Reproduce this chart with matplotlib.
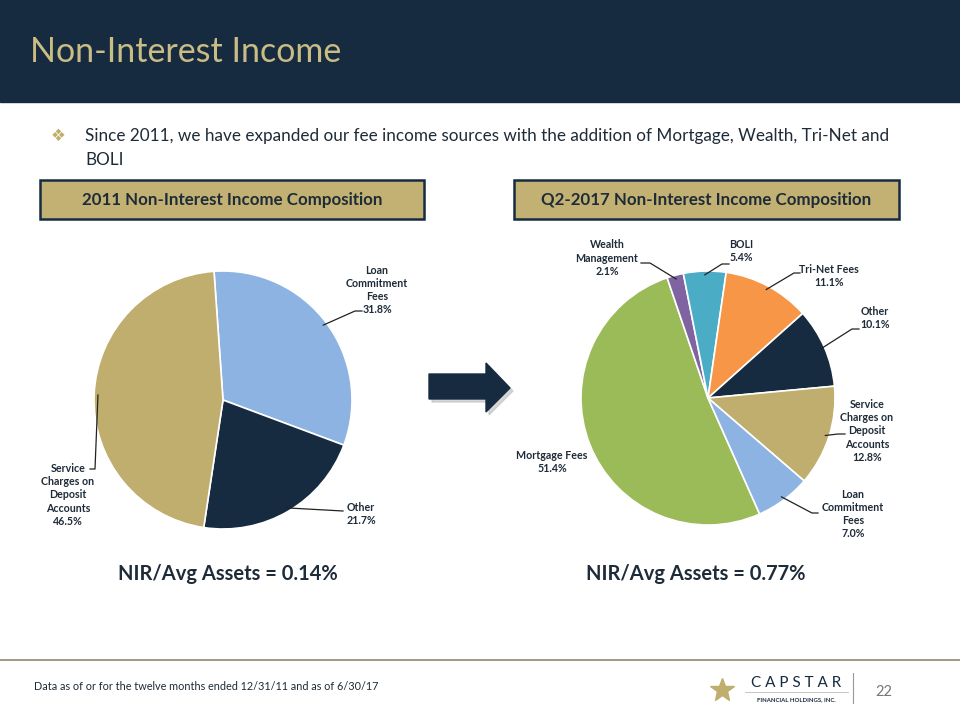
import numpy as np
import matplotlib.pyplot as plt
from matplotlib.patches import Rectangle, Polygon

plt.rcParams['font.family'] = ['Lato', 'DejaVu Sans']

W, H = 960, 720
NAVY = "#172B40"
TAN = "#C0AE6E"
TEXT = "#1E2B38"

# 2011 composition (clockwise from top)
labels_2011 = ["Loan\nCommitment\nFees", "Other", "Service\nCharges on\nDeposit\nAccounts"]
share_2011 = [31.8, 21.7, 46.5]
colors_2011 = ["#8DB3E2", NAVY, TAN]

# Q2-2017 composition (clockwise)
labels_2017 = ["Mortgage Fees", "Wealth\nManagement", "BOLI", "Tri-Net Fees", "Other",
               "Service\nCharges on\nDeposit\nAccounts", "Loan\nCommitment\nFees"]
share_2017 = [51.4, 2.1, 5.4, 11.1, 10.1, 12.8, 7.0]
colors_2017 = ["#9BBB59", "#8064A2", "#4BACC6", "#F79646", NAVY, TAN, "#8DB3E2"]

nir_2011 = 0.14
nir_2017 = 0.77


def Y(y):
    # slide pixel rows (top-down) to axes coords (bottom-up)
    return H - y


fig = plt.figure(figsize=(9.6, 7.2), dpi=100)
ax = fig.add_axes([0, 0, 1, 1])


def draw_pie(share, labels, colors, cx, cy, r, start, layout):
    wedges, _ = ax.pie(share, colors=colors, startangle=start, counterclock=False,
                       center=(cx, Y(cy)), radius=r,
                       wedgeprops=dict(edgecolor='white', linewidth=1.2))
    for w, lab, val, lay in zip(wedges, labels, share, layout):
        tx, ty, path = lay
        ax.text(tx, Y(ty), f"{lab}\n{val:.1f}%", ha='center', va='center',
                fontsize=7.7, fontweight='bold', color=TEXT, linespacing=1.25)
        if path:
            mid = np.deg2rad((w.theta1 + w.theta2) / 2)
            xs = [cx + r * 0.97 * np.cos(mid)] + [p[0] for p in path]
            ys = [Y(cy) + r * 0.97 * np.sin(mid)] + [Y(p[1]) for p in path]
            ax.plot(xs, ys, color='#222222', lw=0.9)


# label layout: text centre and leader path, in slide pixels
layout_2011 = [
    (377, 290, [(355, 311), (362, 311)]),
    (361, 514, [(343, 511)]),
    (68, 495, [(95, 469), (90, 469)]),
]
layout_2017 = [
    (607, 258, None) if False else (552, 462, None),
    (607, 258, [(650, 263), (641, 263)]),
    (741, 251, [(722, 264), (729, 264)]),
    (829, 276, [(794, 273), (800, 273)]),
    (875, 318, [(852, 329), (859, 329)]),
    (867, 431, [(838, 434), (845, 434)]),
    (853, 514, [(812, 513), (818, 513)]),
]

draw_pie(share_2011, labels_2011, colors_2011, 223, 400, 129, 94, layout_2011)
draw_pie(share_2017, labels_2017, colors_2017, 708, 398, 127, -66, layout_2017)

ax.set_xlim(0, W)
ax.set_ylim(0, H)
ax.set_aspect('auto')
ax.axis('off')

# header band
ax.add_patch(Rectangle((0, Y(102)), W, 102, color=NAVY, zorder=0))
ax.text(30, Y(52), "Non-Interest Income", fontsize=24.5, color="#C9BC84", va='center', ha='left')

# bullet
ax.text(58, Y(136), "\u2756", fontsize=12, color=TAN, ha='center', va='center',
        family=['DejaVu Sans'])
ax.text(85, Y(136), "Since 2011, we have expanded our fee income sources with the addition of Mortgage, Wealth, Tri-Net and",
        fontsize=12.3, color=TEXT, va='center', ha='left')
ax.text(85, Y(160), "BOLI", fontsize=12.3, color=TEXT, va='center', ha='left')

# section boxes
for x0, x1, title in [(40, 424, "2011 Non-Interest Income Composition"),
                      (514, 899, "Q2-2017 Non-Interest Income Composition")]:
    ax.add_patch(Rectangle((x0, Y(219)), x1 - x0, 39, facecolor="#C2B173",
                           edgecolor=NAVY, linewidth=1.8, zorder=1))
    ax.text((x0 + x1) / 2, Y(200), title, fontsize=12.2, fontweight='bold',
            color=TEXT, ha='center', va='center', zorder=2)

ax.text(228, Y(574), f"NIR/Avg Assets = {nir_2011:.2f}%", fontsize=14.5, fontweight='bold',
        color=TEXT, ha='center', va='center')
ax.text(696, Y(574), f"NIR/Avg Assets = {nir_2017:.2f}%", fontsize=14.5, fontweight='bold',
        color=TEXT, ha='center', va='center')

# arrow
arrow = [(429, 374), (486, 374), (486, 363), (510, 388), (486, 412), (486, 399), (429, 399)]
ax.add_patch(Polygon([(x + 3, Y(y + 3)) for x, y in arrow], color="#BBBBBB", alpha=0.6, zorder=1))
ax.add_patch(Polygon([(x, Y(y)) for x, y in arrow], color=NAVY, zorder=2))

# footer
ax.plot([0, W], [Y(660), Y(660)], color="#8F8866", lw=1.2)
ax.text(34, Y(687), "Data as of or for the twelve months ended 12/31/11 and as of 6/30/17",
        fontsize=7.8, color=TEXT, va='center', ha='left')
ax.plot([722], [Y(690)], marker='*', markersize=18, color=TAN)
ax.text(796, Y(683), "C A P S T A R", fontsize=11, color=NAVY, ha='center', va='center')
ax.plot([745, 848], [Y(692), Y(692)], color="#BBBBBB", lw=0.6)
ax.text(796, Y(700), "FINANCIAL HOLDINGS, INC.", fontsize=4.3, color=NAVY, ha='center', va='center',
        fontweight='bold')
ax.plot([853, 853], [Y(673), Y(703)], color="#999999", lw=0.8)
ax.text(884, Y(692), "22", fontsize=10.5, color="#777777", ha='center', va='center')

fig.savefig("out.png", dpi=100)
